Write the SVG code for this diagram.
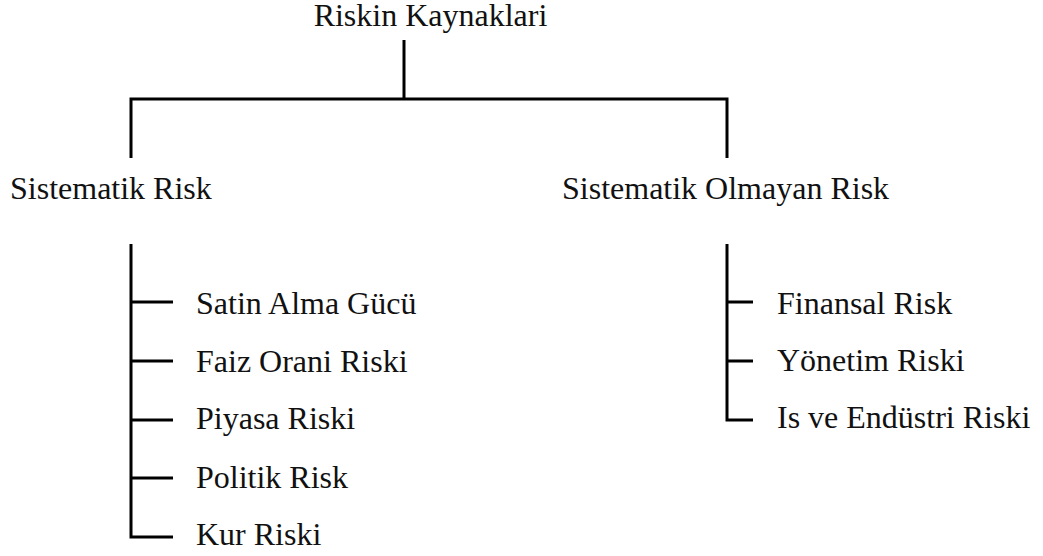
<svg xmlns="http://www.w3.org/2000/svg" width="1043" height="556" viewBox="0 0 1043 556">
<style>
text{font-family:"Liberation Serif","Times New Roman",serif;font-size:32px;fill:#111;}
.c{fill:none;stroke:#000;stroke-width:3;stroke-linecap:butt;stroke-linejoin:miter;}
</style>
<rect width="1043" height="556" fill="#fff"/>
<g id="connectors">
<path class="c" d="M404 40V99M131 158V99H727V158"/>
<path class="c" d="M131 244V537H173M131 302H173M131 361H173M131 420H173M131 478H173"/>
<path class="c" d="M727 244V420H753M727 302H753M727 361H753"/>
</g>
<g id="root"><text x="430.5" y="26" text-anchor="middle">Riskin Kaynaklari</text></g>
<g id="sistematik"><text x="10" y="199">Sistematik Risk</text></g>
<g id="sistematik-olmayan"><text x="562" y="199">Sistematik Olmayan Risk</text></g>
<g id="satin"><text x="196" y="314">Satin Alma Gücü</text></g>
<g id="faiz"><text x="196" y="372">Faiz Orani Riski</text></g>
<g id="piyasa"><text x="196" y="429">Piyasa Riski</text></g>
<g id="politik"><text x="196" y="488">Politik Risk</text></g>
<g id="kur"><text x="196" y="545">Kur Riski</text></g>
<g id="finansal"><text x="777" y="314">Finansal Risk</text></g>
<g id="yonetim"><text x="777" y="371">Yönetim Riski</text></g>
<g id="is"><text x="777" y="428">Is ve Endüstri Riski</text></g>
</svg>
